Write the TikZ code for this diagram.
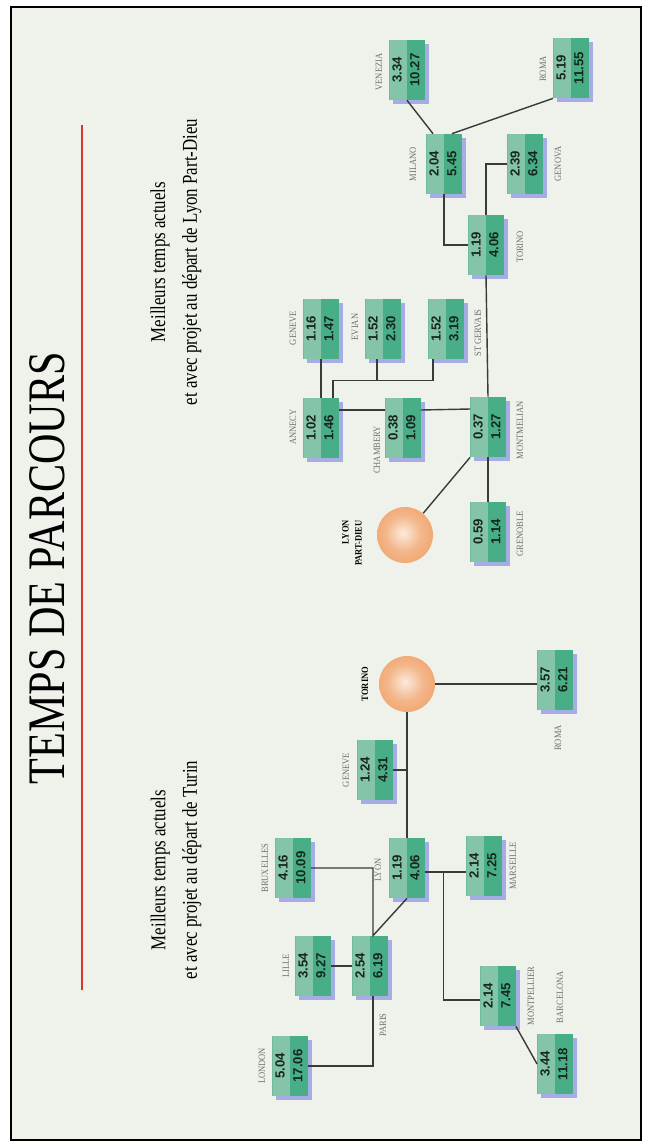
\documentclass[tikz,border=0pt]{standalone}
\usepackage{fontspec}
\setmainfont{Liberation Serif}
\newfontfamily\titlefont[FakeStretch=0.8]{Liberation Serif}
\newfontfamily\cityfont[FakeStretch=0.88]{Liberation Serif}
\newfontfamily\numfont{Liberation Sans}
\usepackage{graphicx}
\usepackage{xcolor}
\usetikzlibrary{calc, positioning, shadows}

\definecolor{paper}{HTML}{EEF2EA}
\definecolor{boxlight}{HTML}{84C5A9}
\definecolor{boxdark}{HTML}{47AE87}
\definecolor{boxshadow}{HTML}{A6ACE4}
\definecolor{numink}{HTML}{17261F}
\definecolor{citygray}{HTML}{6E706C}
\definecolor{linkgray}{HTML}{3A3A3A}
\definecolor{rulered}{HTML}{E0332B}
\definecolor{ballout}{HTML}{EE995A}
\definecolor{ballmid}{HTML}{F3B68A}
\definecolor{ballhi}{HTML}{FBEBDD}

\pgfdeclareradialshading{sunball}{\pgfpoint{-2bp}{2bp}}{color(0bp)=(ballhi); color(16bp)=(ballmid); color(38bp)=(ballout); color(50bp)=(ballout)}

% two travel times, read from bottom to top
\newcommand{\temps}[2]{\rotatebox{90}{\begin{tabular}{@{}c@{}}#1\\#2\end{tabular}}}

\begin{document}
\begin{tikzpicture}[
    x=0.2mm, y=-0.2mm,
    timebox/.style={rectangle, minimum width=7mm, minimum height=12mm, inner sep=0pt, fill=boxdark,
        path picture={\fill[boxlight] (path picture bounding box.north west) rectangle (path picture bounding box.south);},
        drop shadow={shadow xshift=0.8mm, shadow yshift=-0.8mm, fill=boxshadow, opacity=1},
        font=\numfont\bfseries\fontsize{7.5}{10}\selectfont, text=numink},
    ball/.style={circle, minimum size=11.2mm, inner sep=0pt, shading=sunball},
    city/.style={rotate=90, inner sep=0pt, text=citygray, font=\cityfont\fontsize{5.5}{6}\selectfont},
    hub/.style={rotate=90, inner sep=0pt, align=right, font=\cityfont\bfseries\fontsize{5.5}{7.5}\selectfont},
    link/.style={draw=linkgray, line width=0.8pt},
    heading/.style={rotate=90, inner sep=0pt, font=\titlefont\fontsize{30}{36}\selectfont},
    subtitle/.style={rotate=90, inner sep=0pt, align=center, font=\titlefont\fontsize{12}{18}\selectfont}
    ]
    \useasboundingbox (0,0) rectangle (648,1146);
    \fill[white] (0,0) rectangle (648,1146);
    \draw[fill=paper, line width=0.8pt] (11,7) rectangle (641,1140);

    % Title and subtitles
    \node[heading] (titre) at (47,568) {TEMPS DE PARCOURS};
    \draw[rulered, line width=1.7pt] (82,125) -- (82,990);
    \node[subtitle] (sous_turin) at (176,870) {Meilleurs temps actuels\\et avec projet au départ de Turin};
    \node[subtitle] (sous_lyon) at (176,262) {Meilleurs temps actuels\\et avec projet au départ de Lyon Part-Dieu};

    % Departures from Turin
    \node[ball] (torino_t) at (407,684) {};
    \node[timebox] (london) at (290,1066) {\temps{5.04}{17.06}};
    \node[timebox] (lille) at (313,966) {\temps{3.54}{9.27}};
    \node[timebox] (paris) at (370,966) {\temps{2.54}{6.19}};
    \node[timebox] (bruxelles) at (293,868) {\temps{4.16}{10.09}};
    \node[timebox] (lyon) at (407,868) {\temps{1.19}{4.06}};
    \node[timebox] (geneve_t) at (375,770) {\temps{1.24}{4.31}};
    \node[timebox] (roma_t) at (555,680) {\temps{3.57}{6.21}};
    \node[timebox] (marseille) at (484,866) {\temps{2.14}{7.25}};
    \node[timebox] (montpellier) at (498,996) {\temps{2.14}{7.45}};
    \node[timebox] (barcelona) at (555,1064) {\temps{3.44}{11.18}};

    \node[hub] (torino_t_lbl) at (365,684) {TORINO};
    \node[city] (london_lbl) at (262,1066) {LONDON};
    \node[city] (lille_lbl) at (286,966) {LILLE};
    \node[city] (paris_lbl) at (383,1025) {PARIS};
    \node[city] (bruxelles_lbl) at (265,868) {BRUXELLES};
    \node[city] (lyon_lbl) at (378,870) {LYON};
    \node[city] (geneve_t_lbl) at (346,770) {GENEVE};
    \node[city] (roma_t_lbl) at (558,738) {ROMA};
    \node[city] (marseille_lbl) at (513,866) {MARSEILLE};
    \node[city] (montpellier_lbl) at (531,996) {MONTPELLIER};
    \node[city] (barcelona_lbl) at (560,997) {BARCELONA};

    \draw[link] (london.east) -| ([xshift=0.6mm]paris.south);
    \draw[link] (lille.east) -- (paris.west);
    \draw[link] (bruxelles.east) -| ([xshift=0.6mm]paris.north) -- (lyon.south);
    \draw[link] (lyon.north) -- (torino_t.south);
    \draw[link] (geneve_t.east) -- (geneve_t.east -| lyon.north);
    \draw[link] (torino_t.east) -- (torino_t.east -| roma_t.west);
    \draw[link] ([yshift=-0.8mm]lyon.east) -- ([yshift=-0.8mm]lyon.east -| marseille.west);
    \draw[link] ($([yshift=-0.8mm]lyon.east)!0.45!([yshift=-0.8mm]lyon.east -| marseille.west)$) |- ([yshift=-0.8mm]montpellier.west);
    \draw[link] (montpellier.south east) -- (barcelona.west);

    % Departures from Lyon Part-Dieu
    \node[ball] (lyon_pd) at (405,535) {};
    \node[timebox] (montmelian) at (488,427) {\temps{0.37}{1.27}};
    \node[timebox] (grenoble) at (488,532) {\temps{0.59}{1.14}};
    \node[timebox] (chambery) at (403,428) {\temps{0.38}{1.09}};
    \node[timebox] (annecy) at (321,428) {\temps{1.02}{1.46}};
    \node[timebox] (geneve_l) at (321,329) {\temps{1.16}{1.47}};
    \node[timebox] (evian) at (383,329) {\temps{1.52}{2.30}};
    \node[timebox] (stgervais) at (446,329) {\temps{1.52}{3.19}};
    \node[timebox] (torino_l) at (486,245) {\temps{1.19}{4.06}};
    \node[timebox] (milano) at (444,164) {\temps{2.04}{5.45}};
    \node[timebox] (genova) at (525,164) {\temps{2.39}{6.34}};
    \node[timebox] (roma_l) at (571,68) {\temps{5.19}{11.55}};
    \node[timebox] (venezia) at (407,70) {\temps{3.34}{10.27}};

    \node[hub] (lyon_pd_lbl) at (352,543) {LYON\\PART-DIEU};
    \node[city] (montmelian_lbl) at (520,430) {MONTMELIAN};
    \node[city] (grenoble_lbl) at (520,534) {GRENOBLE};
    \node[city] (chambery_lbl) at (377,450) {CHAMBERY};
    \node[city] (annecy_lbl) at (293,427) {ANNECY};
    \node[city] (geneve_l_lbl) at (293,328) {GENEVE};
    \node[city] (evian_lbl) at (355,327) {EVIAN};
    \node[city] (stgervais_lbl) at (478,333) {ST GERVAIS};
    \node[city] (torino_l_lbl) at (520,247) {TORINO};
    \node[city] (milano_lbl) at (413,164) {MILANO};
    \node[city] (genova_lbl) at (558,164) {GENOVA};
    \node[city] (roma_l_lbl) at (543,69) {ROMA};
    \node[city] (venezia_lbl) at (379,72) {VENEZIA};

    \draw[link] (lyon_pd) -- (montmelian.south west);
    \draw[link] (montmelian.south) -- (grenoble.north);
    \draw[link] ([yshift=3.6mm]annecy.east) -- ([yshift=3.6mm]chambery.west);
    \draw[link] ([yshift=3.6mm]chambery.east) -- ([yshift=3.6mm]montmelian.west);
    \draw[link] (geneve_l.south) -- (annecy.north);
    \draw[link] ([xshift=2.4mm]annecy.north) |- ([xshift=-2.6mm,yshift=-4.2mm]stgervais.south) -- ([xshift=-2.6mm]stgervais.south);
    \draw[link] ([xshift=-1.2mm]evian.south) -- ++(0,21);
    \draw[link] (montmelian.north) -- (torino_l.south);
    \draw[link] (torino_l.west) -| (milano.south);
    \draw[link] (torino_l.north) |- (genova.west);
    \draw[link] ([xshift=1.6mm]milano.north) -- (roma_l.south west);
    \draw[link] ([xshift=-2.2mm]milano.north) -- (venezia.south);
\end{tikzpicture}
\end{document}
